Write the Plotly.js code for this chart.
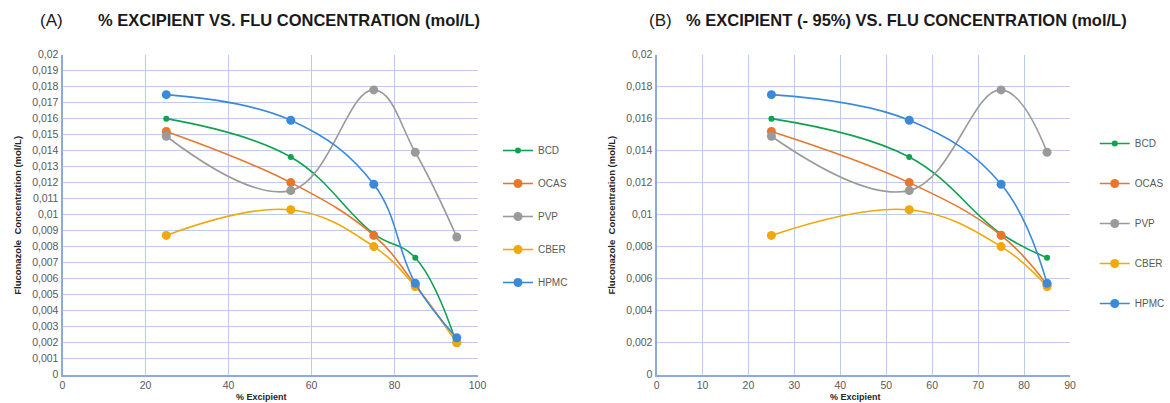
<!DOCTYPE html>
<html>
<head>
<meta charset="utf-8">
<script src="https://cdn.plot.ly/plotly-3.0.1.min.js"></script>
<style>html,body{margin:0;padding:0;background:#fff;}#chart{width:1170px;height:403px;}</style>
</head>
<body>
<div id="chart"></div>
<script>
// Chart A: % excipient (incl. 95%)
const excipientA = [25, 55, 75, 85, 95];
const bcdA  = [0.0160, 0.0136, 0.0088, 0.0073, 0.0019];
const ocasA = [0.0152, 0.0120, 0.0087, 0.0056, 0.0020];
const pvpA  = [0.0149, 0.0115, 0.0178, 0.0139, 0.0086];
const cberA = [0.0087, 0.0103, 0.0080, 0.0055, 0.0020];
const hpmcA = [0.0175, 0.0159, 0.0119, 0.0057, 0.0023];

// Chart B: % excipient without 95%
const excipientB = [25, 55, 75, 85];
const bcdB  = [0.0160, 0.0136, 0.0088, 0.0073];
const ocasB = [0.0152, 0.0120, 0.0087, 0.0056];
const pvpB  = [0.0149, 0.0115, 0.0178, 0.0139];
const cberB = [0.0087, 0.0103, 0.0080, 0.0055];
const hpmcB = [0.0175, 0.0159, 0.0119, 0.0057];

const seriesNames = ["BCD", "OCAS", "PVP", "CBER", "HPMC"];
const titleA = "% EXCIPIENT VS. FLU CONCENTRATION (mol/L)";
const titleB = "% EXCIPIENT (- 95%) VS. FLU CONCENTRATION (mol/L)";
const yTitle = "Fluconazole  Concentration (mol/L)";
const xTitle = "% Excipient";

const colors = ["#12a150", "#e8772e", "#9a9a9a", "#f0a80a", "#3b8ad9"];
const msizes = [6, 9, 9, 9, 9];

const dataA = [bcdA, ocasA, pvpA, cberA, hpmcA];
const dataB = [bcdB, ocasB, pvpB, cberB, hpmcB];

const W = 1170, H = 403;
const px = v => v / W;
const py = v => 1 - v / H;
const FONT = "Liberation Sans, Arial, sans-serif";

const traces = [];
dataA.forEach((ys, i) => {
  traces.push({
    x: excipientA, y: ys, name: seriesNames[i], type: "scatter", mode: "lines+markers",
    xaxis: "x", yaxis: "y", legend: "legend", legendgroup: "a" + i,
    line: {color: colors[i], width: 1.6, shape: "spline", smoothing: 1.15},
    marker: {color: colors[i], size: msizes[i]}
  });
});
dataB.forEach((ys, i) => {
  traces.push({
    x: excipientB, y: ys, name: seriesNames[i], type: "scatter", mode: "lines+markers",
    xaxis: "x2", yaxis: "y2", legend: "legend2", legendgroup: "b" + i,
    line: {color: colors[i], width: 1.6, shape: "spline", smoothing: 1.15},
    marker: {color: colors[i], size: msizes[i]}
  });
});

const tickFont = {family: FONT, size: 10.5, color: "#595959"};
const gridC = "#bccdeb";
const axC = "#8eaadb";

function xax(domain, dtick, max) {
  return {domain: domain, range: [0, max], dtick: dtick, tick0: 0, showgrid: true, gridcolor: gridC, gridwidth: 1,
    showline: true, linecolor: axC, linewidth: 2, zeroline: false, ticks: "", tickfont: tickFont, fixedrange: true,
    mirror: false};
}
function yax(anchor, dtick) {
  return {domain: [py(374.5), py(54.7)], range: [0, 0.02], dtick: dtick, tick0: 0, showgrid: true, gridcolor: gridC,
    gridwidth: 1, showline: true, linecolor: axC, linewidth: 2, zeroline: false, ticks: "", tickfont: tickFont,
    tickformat: "~g", anchor: anchor, fixedrange: true};
}

const layout = {
  width: W, height: H, margin: {l: 0, r: 0, t: 0, b: 0}, paper_bgcolor: "#fff", plot_bgcolor: "#fff",
  separators: ",.",
  xaxis: xax([px(63.3), px(483.3)], 20, 100),
  yaxis: yax("x", 0.001),
  xaxis2: Object.assign(xax([px(664.5), px(1083)], 10, 90), {anchor: "y2"}),
  yaxis2: yax("x2", 0.002),
  legend: {x: px(504), y: py(136), xanchor: "left", yanchor: "top", bgcolor: "rgba(0,0,0,0)",
    font: {family: FONT, size: 10, color: "#595959"}, traceorder: "grouped",
    tracegroupgap: 14, itemwidth: 30},
  legend2: {x: px(1108), y: py(129), xanchor: "left", yanchor: "top", bgcolor: "rgba(0,0,0,0)",
    font: {family: FONT, size: 10, color: "#595959"}, traceorder: "grouped",
    tracegroupgap: 21, itemwidth: 30},
  annotations: [
    {text: "(A)", x: px(52), y: py(20), xref: "paper", yref: "paper", showarrow: false, xanchor: "center", yanchor: "middle",
      font: {family: FONT, size: 17, color: "#1a1a1a"}},
    {text: "<b>" + titleA + "</b>", x: px(292), y: py(20), xref: "paper", yref: "paper", showarrow: false, xanchor: "center", yanchor: "middle",
      font: {family: FONT, size: 16.5, color: "#1a1a1a"}},
    {text: "(B)", x: px(668), y: py(20), xref: "paper", yref: "paper", showarrow: false, xanchor: "center", yanchor: "middle",
      font: {family: FONT, size: 17, color: "#1a1a1a"}},
    {text: "<b>" + titleB + "</b>", x: px(917), y: py(20), xref: "paper", yref: "paper", showarrow: false, xanchor: "center", yanchor: "middle",
      font: {family: FONT, size: 16.5, color: "#1a1a1a"}},
    {text: "<b>" + yTitle + "</b>", x: px(17), y: py(215), xref: "paper", yref: "paper", showarrow: false, textangle: -90,
      xanchor: "center", yanchor: "middle", font: {family: FONT, size: 9.5, color: "#262626"}},
    {text: "<b>" + yTitle + "</b>", x: px(618), y: py(215), xref: "paper", yref: "paper", showarrow: false, textangle: -90,
      xanchor: "center", yanchor: "middle", font: {family: FONT, size: 9.5, color: "#262626"}},
    {text: "<b>" + xTitle + "</b>", x: px(265), y: py(397), xref: "paper", yref: "paper", showarrow: false,
      xanchor: "center", yanchor: "middle", font: {family: FONT, size: 9, color: "#262626"}},
    {text: "<b>" + xTitle + "</b>", x: px(866), y: py(397), xref: "paper", yref: "paper", showarrow: false,
      xanchor: "center", yanchor: "middle", font: {family: FONT, size: 9, color: "#262626"}}
  ]
};

Plotly.newPlot("chart", traces, layout, {displayModeBar: false, staticPlot: true});
</script>
</body>
</html>
